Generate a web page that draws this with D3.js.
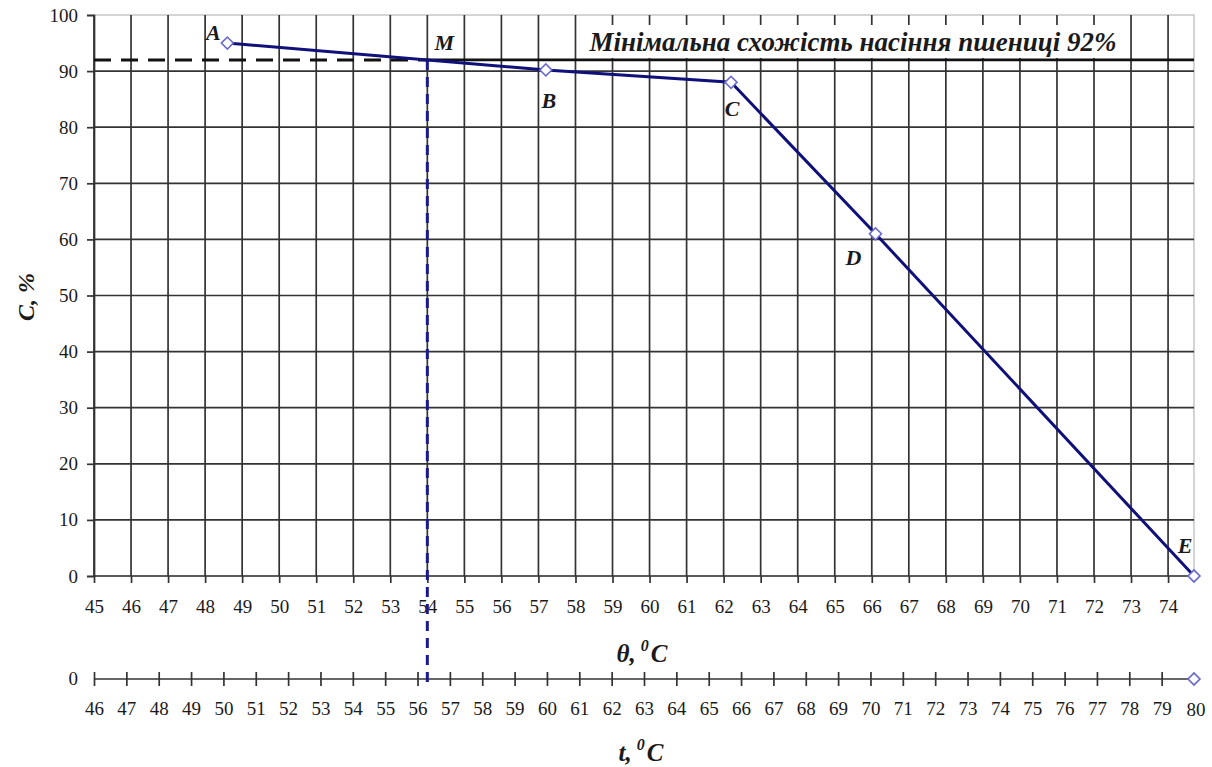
<!DOCTYPE html>
<html>
<head>
<meta charset="utf-8">
<script src="https://cdn.jsdelivr.net/npm/d3@7"></script>
<style>
  body { margin: 0; background: #fff; }
  svg text { font-family: "Liberation Serif", "Times New Roman", Tinos, "DejaVu Serif", serif !important; fill: #1a1a1a; }
</style>
</head>
<body>
<div id="chart"></div>
<script>
// θ (grain temperature) and germination C for points A..E
const thetaValues = [48.6, 57.2, 62.2, 66.1, 74.7];
const germValues = [95, 90.2, 88, 61, 0];
const pointNames = ["A", "B", "C", "D", "E"];

const thetaTicks = d3.range(45, 75);     // 45 .. 74
const germTicks = d3.range(0, 101, 10);  // 0 .. 100
const tTicks = d3.range(46, 81);         // 46 .. 80

const minGerm = 92;       // threshold line
const pointM = [54, 92];  // intersection M
const tEndPoint = [80, 0];
const thresholdText = "Мінімальна схожість насіння пшениці 92%";

const W = 1212, H = 767;
const plot = { left: 94, right: 1194, top: 15, bottom: 576 };
const tAxisY = 679;
const tickFont = "19px";

const svg = d3.select("#chart").append("svg")
    .attr("width", W)
    .attr("height", H);

const x = d3.scaleLinear().domain([45, 74.7]).range([plot.left, plot.right]);
const y = d3.scaleLinear().domain([0, 100]).range([plot.bottom, plot.top]);
const xt = d3.scaleLinear().domain([46, 80]).range([plot.left, plot.right]);

// plot border (light)
svg.append("rect")
    .attr("x", plot.left).attr("y", plot.top)
    .attr("width", plot.right - plot.left).attr("height", plot.bottom - plot.top)
    .attr("fill", "none").attr("stroke", "#b8b8b8").attr("stroke-width", 1.2);

// vertical grid
svg.append("g")
    .selectAll("line")
    .data(thetaTicks)
    .enter().append("line")
        .attr("x1", d => x(d)).attr("x2", d => x(d))
        .attr("y1", plot.top).attr("y2", plot.bottom)
        .attr("stroke", "#333").attr("stroke-width", 1.7);

// horizontal grid
svg.append("g")
    .selectAll("line")
    .data(germTicks.filter(d => d < 100))
    .enter().append("line")
        .attr("x1", plot.left).attr("x2", plot.right)
        .attr("y1", d => y(d)).attr("y2", d => y(d))
        .attr("stroke", "#333").attr("stroke-width", 1.7);

// Y axis
const yAxis = svg.append("g")
    .attr("transform", `translate(${plot.left},0)`)
    .call(d3.axisLeft(y).tickValues(germTicks).tickSize(7).tickPadding(9));
yAxis.attr("font-family", null);
yAxis.select(".domain").attr("stroke", "#333").attr("stroke-width", 1.7);
yAxis.selectAll(".tick line").attr("stroke", "#333").attr("stroke-width", 1.7);
yAxis.selectAll("text").attr("font-size", tickFont).attr("fill", "#1a1a1a");

// X axis (θ)
const xAxis = svg.append("g")
    .attr("transform", `translate(0,${plot.bottom})`)
    .call(d3.axisBottom(x).tickValues(thetaTicks).tickSize(7).tickPadding(17).tickFormat(d3.format("d")));
xAxis.attr("font-family", null);
xAxis.select(".domain").remove();
xAxis.selectAll(".tick line").attr("stroke", "#333").attr("stroke-width", 1.7);
xAxis.selectAll("text").attr("font-size", tickFont).attr("fill", "#1a1a1a");

// second axis (t)
const tAxis = svg.append("g")
    .attr("transform", `translate(0,${tAxisY})`)
    .call(d3.axisBottom(xt).tickValues(tTicks.filter(d => d < 80)).tickSize(7).tickPadding(16).tickFormat(d3.format("d")));
tAxis.attr("font-family", null);
tAxis.select(".domain").remove();
tAxis.selectAll(".tick line").attr("y1", -7).attr("stroke", "#333").attr("stroke-width", 1.7);
tAxis.selectAll("text").attr("font-size", tickFont).attr("fill", "#1a1a1a");
tAxis.append("line")
    .attr("x1", plot.left).attr("x2", plot.right)
    .attr("stroke", "#333").attr("stroke-width", 1.7);
tAxis.append("text")
    .attr("x", xt(80) + 2).attr("y", 37)
    .attr("text-anchor", "middle")
    .attr("font-size", tickFont)
    .text("80");
tAxis.append("text")
    .attr("x", plot.left - 16).attr("y", 6)
    .attr("text-anchor", "end")
    .attr("font-size", tickFont)
    .text("0");

// white box behind threshold caption
svg.append("rect")
    .attr("x", 580).attr("y", 25)
    .attr("width", 548).attr("height", 33)
    .attr("fill", "#fff");

svg.append("text")
    .attr("x", 853).attr("y", 51)
    .attr("text-anchor", "middle")
    .attr("font-size", "27px")
    .attr("font-weight", "bold")
    .attr("font-style", "italic")
    .text(thresholdText);

// threshold line: dashed up to M, solid after
svg.append("line")
    .attr("x1", x(45)).attr("x2", x(pointM[0]))
    .attr("y1", y(minGerm)).attr("y2", y(minGerm))
    .attr("stroke", "#111").attr("stroke-width", 3)
    .attr("stroke-dasharray", "17,10");
svg.append("line")
    .attr("x1", x(pointM[0])).attr("x2", plot.right)
    .attr("y1", y(minGerm)).attr("y2", y(minGerm))
    .attr("stroke", "#111").attr("stroke-width", 2.8);

// vertical dashed from M down to t axis
svg.append("line")
    .attr("x1", x(pointM[0])).attr("x2", x(pointM[0]))
    .attr("y1", y(pointM[1])).attr("y2", tAxisY + 4)
    .attr("stroke", "#1a1a8c").attr("stroke-width", 3)
    .attr("stroke-dasharray", "10,7");

// series
const pts = thetaValues.map((v, i) => ({ t: v, c: germValues[i], name: pointNames[i] }));

svg.append("path")
    .datum(pts)
    .attr("fill", "none")
    .attr("stroke", "#10107a")
    .attr("stroke-width", 3)
    .attr("d", d3.line().x(d => x(d.t)).y(d => y(d.c)));

const diamond = d3.symbol().type(d3.symbolSquare).size(72);
svg.append("g")
    .selectAll("path")
    .data(pts)
    .enter().append("path")
        .attr("d", diamond)
        .attr("transform", d => `translate(${x(d.t)},${y(d.c)}) rotate(45)`)
        .attr("fill", "#fff")
        .attr("stroke", "#6a6ad0")
        .attr("stroke-width", 1.6);

svg.append("path")
    .attr("d", diamond)
    .attr("transform", `translate(${xt(tEndPoint[0])},${tAxisY}) rotate(45)`)
    .attr("fill", "#fff")
    .attr("stroke", "#6a6ad0")
    .attr("stroke-width", 1.6);

// point labels
const labelOffset = { A: [-14, -3], B: [3, 38], C: [1, 34], D: [-22, 31], E: [-9, -23] };
svg.append("g")
    .selectAll("text")
    .data(pts)
    .enter().append("text")
        .attr("x", d => x(d.t) + labelOffset[d.name][0])
        .attr("y", d => y(d.c) + labelOffset[d.name][1])
        .attr("text-anchor", "middle")
        .attr("font-size", "22px")
        .attr("font-weight", "bold")
        .attr("font-style", "italic")
        .text(d => d.name);

svg.append("text")
    .attr("x", x(pointM[0]) + 17).attr("y", y(pointM[1]) - 10)
    .attr("text-anchor", "middle")
    .attr("font-size", "22px")
    .attr("font-weight", "bold")
    .attr("font-style", "italic")
    .text("M");

// axis titles
svg.append("text")
    .attr("transform", "translate(34,297) rotate(-90)")
    .attr("text-anchor", "middle")
    .attr("font-size", "24px")
    .attr("font-weight", "bold")
    .attr("font-style", "italic")
    .text("C, %");

function degreeTitle(sym, cx, cy) {
    const t = svg.append("text")
        .attr("x", cx).attr("y", cy)
        .attr("text-anchor", "middle")
        .attr("font-size", "25px")
        .attr("font-weight", "bold")
        .attr("font-style", "italic");
    t.append("tspan").text(sym + ",");
    t.append("tspan").attr("font-size", "16px").attr("dy", -11).attr("dx", 5).text("0");
    t.append("tspan").attr("dy", 11).attr("dx", 2).text("C");
}
degreeTitle("θ", 642, 662);
degreeTitle("t", 641, 761);
</script>
</body>
</html>
